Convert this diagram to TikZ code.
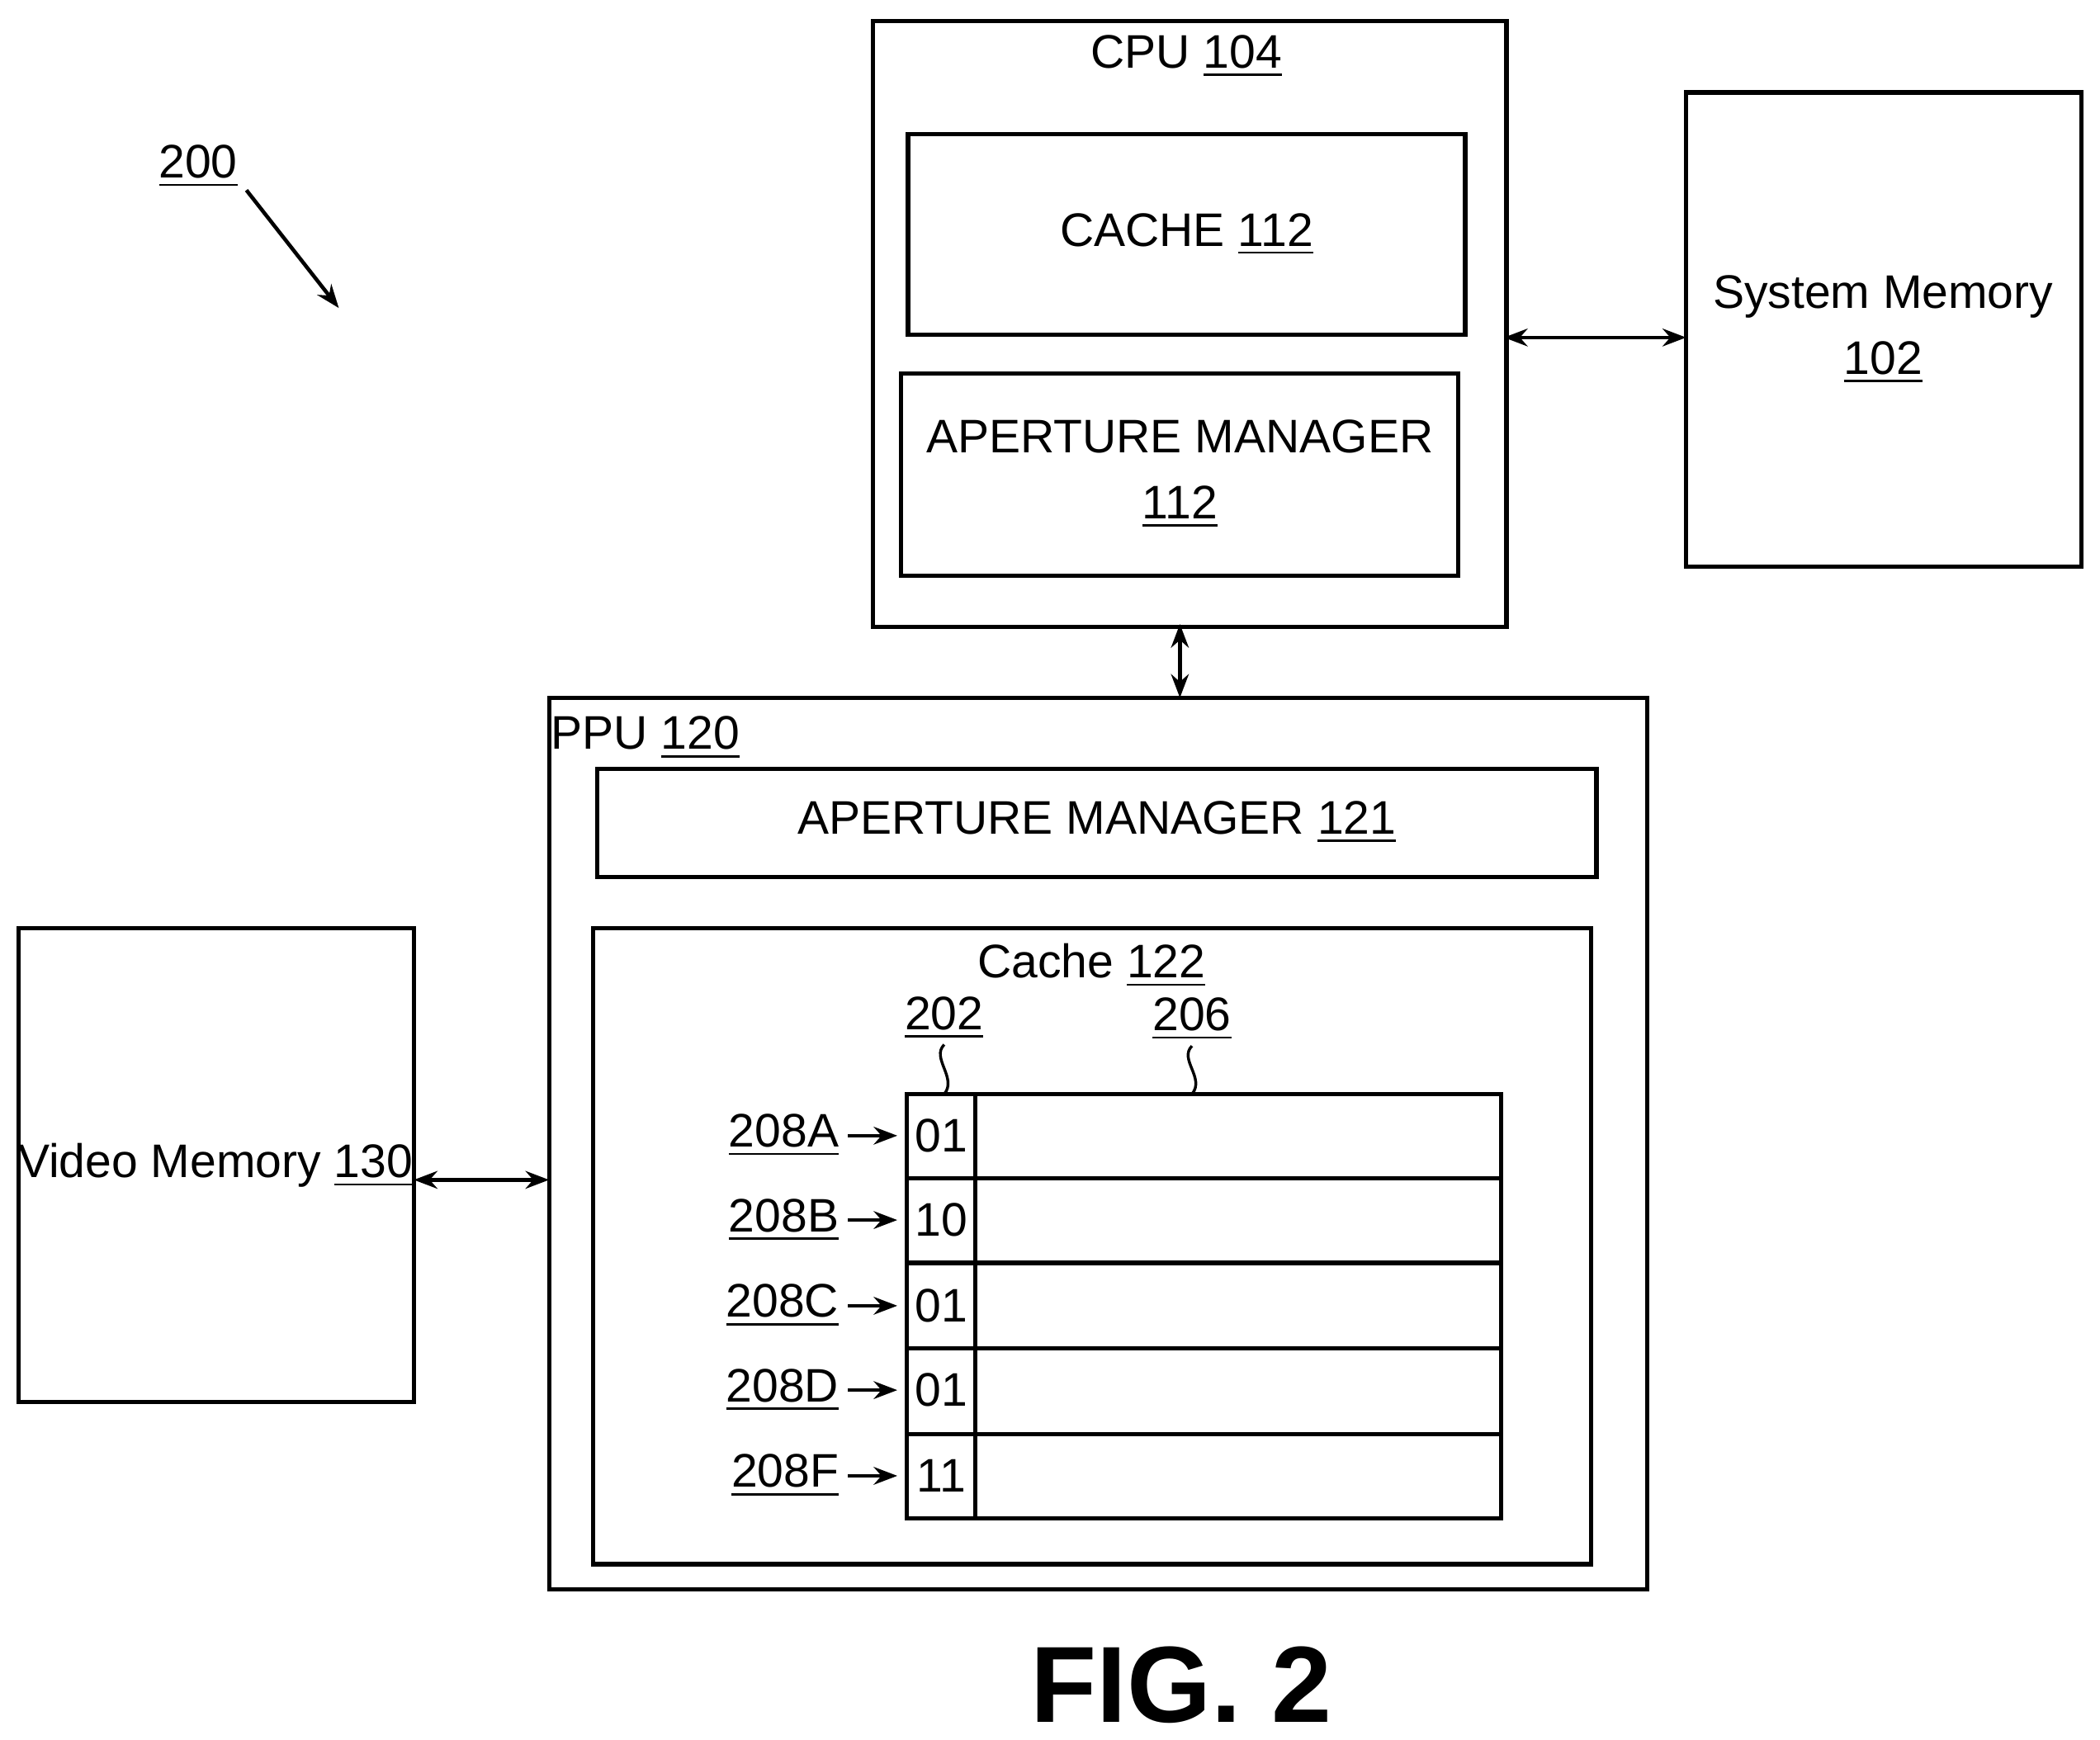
\documentclass[tikz,border=0pt]{standalone}
\usepackage{fontspec}
\setmainfont{Liberation Sans}
\usetikzlibrary{arrows.meta}
\begin{document}
\begin{tikzpicture}[x=0.01cm,y=-0.01cm,
 box/.style={draw,line width=0.9pt},
 lbl/.style={font=\fontsize{10}{12}\selectfont,inner sep=0pt},
 arr/.style={line width=0.8pt,{Stealth[length=5pt]}-{Stealth[length=5pt]}},
 sarr/.style={line width=0.8pt,-{Stealth[length=5pt]}}]
\useasboundingbox (0,0) rectangle (1568,1299);
\node[box,minimum width=473cm/100,minimum height=452cm/100,anchor=north west,inner sep=0] (cpu) at (650,14) {};
\node[lbl] (cpul) at (886,42) {CPU \underline{104}};
\draw[box] (678,100) rectangle (1094,250);
\node[lbl] (c112) at (886,175) {CACHE \underline{112}};
\draw[box] (673,279) rectangle (1089,430);
\node[lbl,align=center] (am112) at (881,354) {APERTURE MANAGER\\[2pt]\underline{112}};
\draw[box] (1259,69) rectangle (1554,423);
\node[lbl,align=center] (sm) at (1406,246) {System Memory\\[2pt]\underline{102}};
\coordinate (a1) at (1123,252); \coordinate (a2) at (1259,252);
\draw[arr] (a1) -- (a2);
\coordinate (b1) at (881,466); \coordinate (b2) at (881,521);
\draw[arr] (b1) -- (b2);
\draw[box] (410,521) rectangle (1230,1187);
\node[lbl] (ppul) at (482,551) {PPU \underline{120}};
\draw[box] (446,574) rectangle (1192,655);
\node[lbl] (am121) at (819,614) {APERTURE MANAGER \underline{121}};
\draw[box] (443,693) rectangle (1188,1168);
\node[lbl] (c122) at (815,721) {Cache \underline{122}};
\draw[box] (14,693) rectangle (309,1047);
\node[lbl] (vm) at (161,870) {Video Memory \underline{130}};
\coordinate (v1) at (309,881); \coordinate (v2) at (410,881);
\draw[arr] (v1) -- (v2);
% table
\draw[line width=0.9pt] (677,817) rectangle (1121,1134);
\draw[line width=0.9pt] (728,817) -- (728,1134);
\foreach \y in {880,943,1007,1071} \draw[line width=0.9pt] (677,\y) -- (1121,\y);
\foreach \v/\l/\y in {01/208A/848,10/208B/911,01/208C/975,01/208D/1038,11/208F/1102}{
  \node[lbl] at (703,\y) {\v};
  \node[lbl,anchor=east] (r\l) at (627,\y) {\underline{\l}};
  \draw[sarr] (633,\y) -- (670,\y);
}
\node[lbl] (n202) at (705,760) {\underline{202}};
\node[lbl] (n206) at (890,761) {\underline{206}};
\draw[line width=0.6pt] (705,780) .. controls (695,790) and (715,805) .. (705,817);
\draw[line width=0.6pt] (890,781) .. controls (880,791) and (900,805) .. (890,817);
\node[lbl] (n200) at (148,124) {\underline{200}};
\coordinate (p1) at (184,142); \coordinate (p2) at (253,230);
\draw[sarr] (p1) -- (p2);
\node[inner sep=0,font=\fontsize{23}{26}\selectfont\bfseries] at (882,1258) {FIG. 2};
\end{tikzpicture}
\end{document}
